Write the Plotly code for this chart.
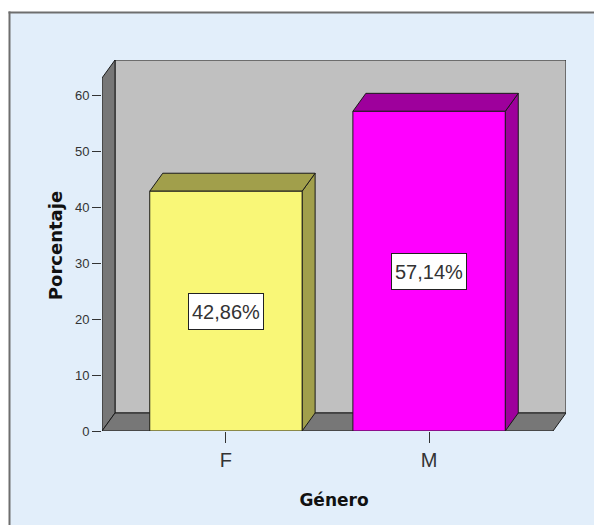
import plotly.graph_objects as go

# ---- data ----
categories = ["F", "M"]
percentages = [42.86, 57.14]
bar_labels = ["42,86%", "57,14%"]
y_ticks = [0, 10, 20, 30, 40, 50, 60]
front_colors = ["#F9F777", "#FF00FF"]
side_colors = ["#A19F4B", "#9E009C"]

# ---- geometry ----
W, H = 594, 517            # page adds an 8px body margin
m_l, m_r, m_t, m_b = 94, 36, 52, 94
plot_w = W - m_l - m_r
plot_h = H - m_t - m_b
depth_px_x, depth_px_y = 13, 18
pad = 0.61            # category padding at both ends
bar_w = 0.75
y_front_max = 63.1

x_front = [-pad, len(categories) - 1 + pad]
span_x = x_front[1] - x_front[0]
dx = depth_px_x * span_x / (plot_w - depth_px_x)
dy = depth_px_y * y_front_max / (plot_h - depth_px_y)

edge = dict(color="#1a1a1a", width=1)
fig = go.Figure()


def face(xs, ys, color):
    fig.add_trace(go.Scatter(x=xs + [xs[0]], y=ys + [ys[0]], mode="lines",
                             fill="toself", fillcolor=color, line=edge,
                             hoverinfo="skip", showlegend=False))


xl, xr = x_front
# back wall
face([xl + dx, xr + dx, xr + dx, xl + dx], [dy, dy, y_front_max + dy, y_front_max + dy], "#C0C0C0")
# left side wall
face([xl, xl + dx, xl + dx, xl], [0, dy, y_front_max + dy, y_front_max], "#777777")
# floor
face([xl, xr, xr + dx, xl + dx], [0, 0, dy, dy], "#777777")

# bars
for i, (cat, v) in enumerate(zip(categories, percentages)):
    a, b = i - bar_w / 2, i + bar_w / 2
    face([b, b + dx, b + dx, b], [0, dy, v + dy, v], side_colors[i])
    face([a, b, b + dx, a + dx], [v, v, v + dy, v + dy], side_colors[i])
    face([a, b, b, a], [0, 0, v, v], front_colors[i])
    fig.add_annotation(x=i, y=v / 2, text=bar_labels[i], showarrow=False,
                       font=dict(family="Liberation Sans, Arial", size=20, color="#333333"),
                       bgcolor="white", bordercolor="#222222", borderwidth=1,
                       borderpad=2, width=70, height=31)

# frame position (pixels in figure)
bx, by = 1.5, 4.5
px_x = lambda p: (p - m_l) / plot_w
px_y = lambda p: (H - m_b - p) / plot_h

fig.update_layout(
    width=W, height=H,
    margin=dict(l=m_l, r=m_r, t=m_t, b=m_b, pad=0),
    paper_bgcolor="white", plot_bgcolor="rgba(0,0,0,0)",
    showlegend=False,
    xaxis=dict(range=[xl, xr + dx], tickmode="array",
               tickvals=list(range(len(categories))), ticktext=categories,
               showgrid=False, zeroline=False, showline=False,
               ticks="outside", ticklen=11, tickcolor="#333333", tickwidth=1,
               tickfont=dict(family="Liberation Sans, Arial", size=20, color="#333333"),
               title=dict(text="<b>Género</b>", standoff=24,
                          font=dict(family="DejaVu Sans", size=17, color="#111111")),
               fixedrange=True),
    yaxis=dict(range=[0, y_front_max + dy], tickmode="array",
               tickvals=y_ticks, ticktext=[str(t) for t in y_ticks],
               showgrid=False, zeroline=False, showline=False,
               ticks="outside", ticklen=9, tickcolor="#333333", tickwidth=1,
               tickfont=dict(family="Liberation Sans, Arial", size=13, color="#333333"),
               title=dict(text="<b>Porcentaje</b>", standoff=7,
                          font=dict(family="DejaVu Sans", size=18, color="#111111")),
               fixedrange=True),
    shapes=[
        dict(type="rect", xref="paper", yref="paper", layer="below",
             x0=px_x(bx), x1=px_x(W + 2), y0=px_y(by), y1=px_y(H + 2),
             fillcolor="#E2EEFA", line=dict(width=0)),
        dict(type="line", xref="paper", yref="paper",
             x0=px_x(bx - 1), x1=px_x(W + 2), y0=px_y(by), y1=px_y(by),
             line=dict(color="#6E6E6E", width=2)),
        dict(type="line", xref="paper", yref="paper",
             x0=px_x(bx), x1=px_x(bx), y0=px_y(by - 1), y1=px_y(H + 2),
             line=dict(color="#6E6E6E", width=2)),
    ],
)

fig.write_html("out.html")
